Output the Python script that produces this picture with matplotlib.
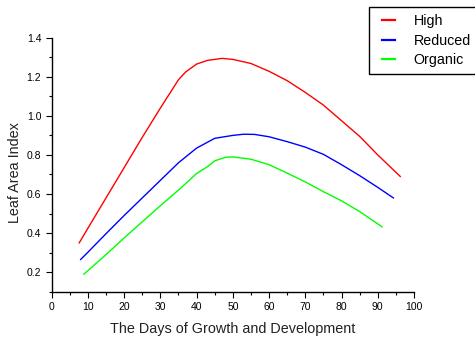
import matplotlib
matplotlib.use("Agg")
import matplotlib.pyplot as plt
from matplotlib.ticker import MultipleLocator

plt.rcParams['font.family'] = ['Liberation Sans', 'DejaVu Sans']

high_x = [7.6, 10, 15, 20, 25, 30, 35, 37, 40, 43, 47, 50, 55, 60, 65, 70, 75, 80, 85, 90, 96.2]
high_y = [0.35, 0.425, 0.58, 0.735, 0.89, 1.04, 1.185, 1.225, 1.265, 1.284, 1.294, 1.289, 1.268, 1.228, 1.18, 1.12, 1.055, 0.975, 0.895, 0.80, 0.69]

red_x = [8.0, 10, 15, 20, 25, 30, 35, 40, 45, 50, 53, 56, 60, 65, 70, 75, 80, 85, 90, 94.3]
red_y = [0.265, 0.302, 0.397, 0.49, 0.58, 0.67, 0.76, 0.835, 0.885, 0.90, 0.906, 0.905, 0.893, 0.868, 0.84, 0.803, 0.75, 0.694, 0.634, 0.58]

org_x = [8.9, 10, 15, 20, 25, 30, 35, 40, 43, 45, 48, 50, 55, 60, 65, 70, 75, 80, 85, 91.2]
org_y = [0.19, 0.208, 0.29, 0.375, 0.458, 0.54, 0.62, 0.705, 0.74, 0.77, 0.788, 0.79, 0.778, 0.75, 0.707, 0.662, 0.612, 0.565, 0.51, 0.432]

labels = ["High", "Reduced", "Organic"]
colors = ["#ff0000", "#0000ff", "#00ff00"]

fig = plt.figure(figsize=(4.75, 3.39), dpi=100)
ax = fig.add_axes([0.1088, 0.1395, 0.7628, 0.7493])

for xs, ys, lab, c in zip([high_x, red_x, org_x], [high_y, red_y, org_y], labels, colors):
    ax.plot(xs, ys, color=c, lw=1.0, label=lab)

ax.set_xlim(0, 100)
ax.set_ylim(0.1, 1.4)
ax.xaxis.set_major_locator(MultipleLocator(10))
ax.xaxis.set_minor_locator(MultipleLocator(5))
ax.yaxis.set_minor_locator(MultipleLocator(0.1))
ax.set_yticks([0.2, 0.4, 0.6, 0.8, 1.0, 1.2, 1.4])
ax.set_yticklabels(["0.2", "0.4", "0.6", "0.8", "1.0", "1.2", "1.4"])

for s in ["top", "right"]:
    ax.spines[s].set_visible(False)
for s in ["left", "bottom"]:
    ax.spines[s].set_color("black")
    ax.spines[s].set_linewidth(1.0)

ax.tick_params(which="major", direction="out", length=4.5, width=0.8, labelsize=7.5, colors="black", pad=3)
ax.tick_params(which="minor", direction="out", length=2.5, width=0.8)

ax.set_xlabel("The Days of Growth and Development", fontsize=10.4, color="#222222", labelpad=7)
ax.set_ylabel("Leaf Area Index", fontsize=10.4, color="#222222")
ax.yaxis.set_label_coords(-0.082, 0.471)

leg = fig.legend(loc="upper left", bbox_to_anchor=(369/475, 1 - 7/339, 120/475, 0.0),
                 mode="expand", fontsize=10.3,
                 frameon=True, fancybox=False, edgecolor="black", framealpha=1,
                 handlelength=1.7, handletextpad=0.9, labelspacing=0.36, borderpad=0.52,
                 borderaxespad=0)
leg.get_frame().set_linewidth(1.0)
for lh in leg.get_lines():
    lh.set_linewidth(1.6)
    xd = list(lh.get_xdata())
    yd = list(lh.get_ydata())
    x0, x1 = xd[0], xd[-1]
    L = x1 - x0
    lh.set_data([x0 + 0.22 * L, x1 - 0.25 * L], [yd[0], yd[0]])

fig.savefig("out.png", dpi=100)
